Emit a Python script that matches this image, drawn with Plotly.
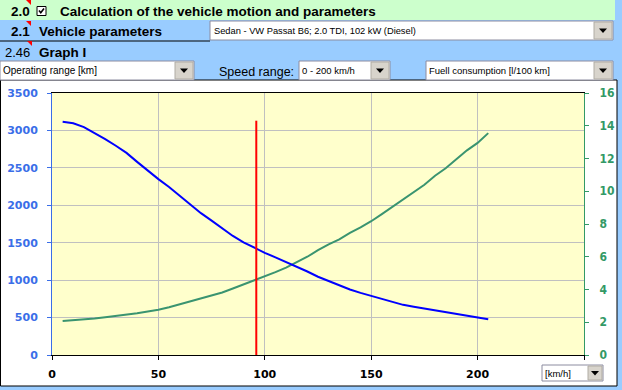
import plotly.graph_objects as go

# ---------------- data ----------------
speed_kmh = [5, 10, 15, 20, 25, 30, 35, 40, 45, 50, 55, 60, 65, 70, 75, 80, 85, 90, 95, 100,
             105, 110, 115, 120, 125, 130, 135, 140, 145, 150, 155, 160, 165, 170, 175, 180,
             185, 190, 195, 200, 205]
operating_range_km = [3116, 3095, 3045, 2970, 2885, 2795, 2700, 2580, 2460, 2350, 2245, 2130,
                      2020, 1895, 1795, 1690, 1590, 1505, 1430, 1365, 1305, 1245, 1180, 1115,
                      1045, 985, 925, 875, 830, 785, 750, 710, 670, 645, 620, 595, 570, 545,
                      520, 505, 477]
fuel_l_100km = [2.08, 2.12, 2.18, 2.23, 2.30, 2.37, 2.45, 2.55, 2.65, 2.76, 2.92, 3.10, 3.26,
                3.42, 3.62, 3.82, 4.06, 4.30, 4.54, 4.82, 5.06, 5.34, 5.65, 6.00, 6.40, 6.76,
                7.06, 7.46, 7.80, 8.17, 8.60, 9.05, 9.55, 9.95, 10.40, 10.95, 11.40, 11.95,
                12.50, 12.95, 13.55]
marker_speed = [96, 96]
marker_range = [0, 3130]

x_ticks = [0, 50, 100, 150, 200, 250]
x_ticktext = ["0", "50", "100", "150", "200", ""]
range_ticks = [0, 500, 1000, 1500, 2000, 2500, 3000, 3500]
fuel_ticks = [0, 2, 4, 6, 8, 10, 12, 14, 16]

title_main = "Calculation of the vehicle motion and parameters"
title_vehicle = "Vehicle parameters"
vehicle_choice = "Sedan - VW Passat B6; 2.0 TDI, 102 kW (Diesel)"
graph_title = "Graph I"
left_choice = "Operating range [km]"
speed_label = "Speed range:"
speed_choice = "0 - 200 km/h"
right_choice = "Fuell consumption [l/100 km]"
unit_choice = "[km/h]"

# ---------------- layout helpers (pixel -> paper) ----------------
FW, FH = 622, 390
L, T, W, H = 52, 93, 532, 262


def px(x):
    return (x - L) / W


def py(y):
    return (T + H - y) / H


BLUE_BG = "#99ccff"
GREEN_BG = "#ccffcc"
BOX_LINE = "#8c8ca0"
BTN_FILL = "#d8d4cc"

shapes = []


def rect(x0, y0, x1, y1, fill=None, line=None, lw=1):
    shapes.append(dict(type="rect", xref="paper", yref="paper",
                       x0=px(x0), x1=px(x1), y0=py(y1), y1=py(y0),
                       fillcolor=fill if fill else "rgba(0,0,0,0)",
                       line=dict(color=line if line else "rgba(0,0,0,0)", width=lw if line else 0),
                       layer="below"))


def path(points, fill, layer="below"):
    d = "M " + " L ".join(f"{px(a)},{py(b)}" for a, b in points) + " Z"
    shapes.append(dict(type="path", xref="paper", yref="paper", path=d,
                       fillcolor=fill, line=dict(width=0), layer=layer))


def polyline(points, color, w):
    d = "M " + " L ".join(f"{px(a)},{py(b)}" for a, b in points)
    shapes.append(dict(type="path", xref="paper", yref="paper", path=d,
                       line=dict(color=color, width=w), layer="above"))


def hline(x0, x1, y, color="black", w=1):
    shapes.append(dict(type="line", xref="paper", yref="paper",
                       x0=px(x0), x1=px(x1), y0=py(y), y1=py(y),
                       line=dict(color=color, width=w), layer="below"))


def dropdown(x0, y0, x1, y1, btn_w=19):
    rect(x0, y0, x1, y1, fill="white", line=BOX_LINE)
    rect(x1 - btn_w, y0 + 1, x1 - 1, y1 - 1, fill=BTN_FILL, line="#b0aca4")
    cx = x1 - btn_w / 2 - 0.5
    cy = (y0 + y1) / 2
    path([(cx - 4, cy - 2), (cx + 4, cy - 2), (cx, cy + 2.5)], "black", layer="above")


# backgrounds
rect(0, 0, 622, 80, fill=BLUE_BG)
rect(617, 0, 622, 390, fill=BLUE_BG)
rect(0, 386, 622, 390, fill=BLUE_BG)
rect(0, 0, 615, 20, fill=GREEN_BG)
# chart frame
rect(0.5, 80, 617, 386, line="black")
# line under vehicle parameters row
hline(0, 210, 41)
# dropdowns
dropdown(210, 21, 613, 40)
dropdown(0, 61, 194, 80)
dropdown(299, 61, 390, 80)
dropdown(426, 61, 613, 80)
dropdown(542, 365, 603, 381, btn_w=15)
# red comment markers
path([(26, 0), (31, 0), (31, 5)], "red")
path([(26, 21), (31, 21), (31, 26)], "red")
path([(27, 41), (32, 41), (32, 46)], "red")
# checkbox
rect(37, 6.5, 46, 15.5, fill="white", line="black")
polyline([(39, 10.5), (40.8, 12.8), (44, 8.5)], "black", 1.6)

HF = "Liberation Sans, Arial, sans-serif"
annotations = []


def text(x, y, s, size, bold=False, color="black", family=HF):
    annotations.append(dict(xref="paper", yref="paper", x=px(x), y=py(y), text=s,
                            showarrow=False, xanchor="left", yanchor="middle",
                            font=dict(family=family, size=size, color=color,
                                      weight="bold" if bold else "normal")))


text(9, 11, "2.0", 13.5, bold=True)
text(58, 11, title_main, 13.5, bold=True)
text(9, 32, "2.1", 13.5, bold=True)
text(37, 32, title_vehicle, 13.5, bold=True)
text(212, 30.5, vehicle_choice, 9.3)
text(3, 52.5, "2.46", 13)
text(37, 52.5, graph_title, 13.5, bold=True)
text(1, 70.5, left_choice, 10)
text(217, 72, speed_label, 12.5)
text(300, 70.5, speed_choice, 9.5)
text(427, 70.5, right_choice, 9.5)
text(543, 373, unit_choice, 9.5)

fig = go.Figure()
fig.add_trace(go.Scatter(x=speed_kmh, y=fuel_l_100km, mode="lines",
                         line=dict(color="#3a9470", width=2), yaxis="y",
                         name="fuel", showlegend=False, hoverinfo="skip"))
fig.add_trace(go.Scatter(x=speed_kmh, y=operating_range_km, mode="lines",
                         line=dict(color="#0000ff", width=2), yaxis="y2",
                         name="range", showlegend=False, hoverinfo="skip"))
fig.add_trace(go.Scatter(x=marker_speed, y=marker_range, mode="lines",
                         line=dict(color="#ff0000", width=2), yaxis="y2",
                         name="speed", showlegend=False, hoverinfo="skip"))

tick_font = dict(family="DejaVu Sans, Verdana, sans-serif", size=11, weight="bold")

fig.update_layout(
    width=FW, height=FH,
    margin=dict(l=L, r=FW - L - W, t=T, b=FH - T - H, autoexpand=False),
    paper_bgcolor="white",
    plot_bgcolor="#ffffcc",
    showlegend=False,
    shapes=shapes,
    annotations=annotations,
    xaxis=dict(range=[0, 250], tickvals=x_ticks, ticktext=x_ticktext,
               showgrid=True, gridcolor="#c0c0c0", gridwidth=1,
               showline=True, linecolor="black", linewidth=1, mirror=True,
               ticks="outside", ticklen=4, tickcolor="black",
               tickfont=dict(tick_font, color="black"), ticklabelstandoff=5,
               zeroline=False, fixedrange=True),
    yaxis=dict(range=[0, 16], tickvals=fuel_ticks, side="right",
               showgrid=False, zeroline=False,
               showline=True, linecolor="#339966", linewidth=1,
               ticks="outside", ticklen=4, tickcolor="#339966",
               tickfont=dict(family="Liberation Sans Narrow, DejaVu Sans Condensed, sans-serif",
                             size=12, weight="bold", color="#339966"),
               ticklabelstandoff=8, fixedrange=True),
    yaxis2=dict(range=[0, 3500], tickvals=range_ticks, side="left", overlaying="y",
                showgrid=True, gridcolor="#c0c0c0", gridwidth=1, zeroline=False,
                showline=True, linecolor="#3a6ee8", linewidth=1,
                ticks="outside", ticklen=4, tickcolor="#3a6ee8",
                tickfont=dict(tick_font, color="#3a6ee8"), ticklabelstandoff=7,
                fixedrange=True),
)

fig.write_html("out.html", config={"displayModeBar": False, "staticPlot": True},
               post_script="document.body.style.margin='0px';document.body.style.overflow='hidden';")
